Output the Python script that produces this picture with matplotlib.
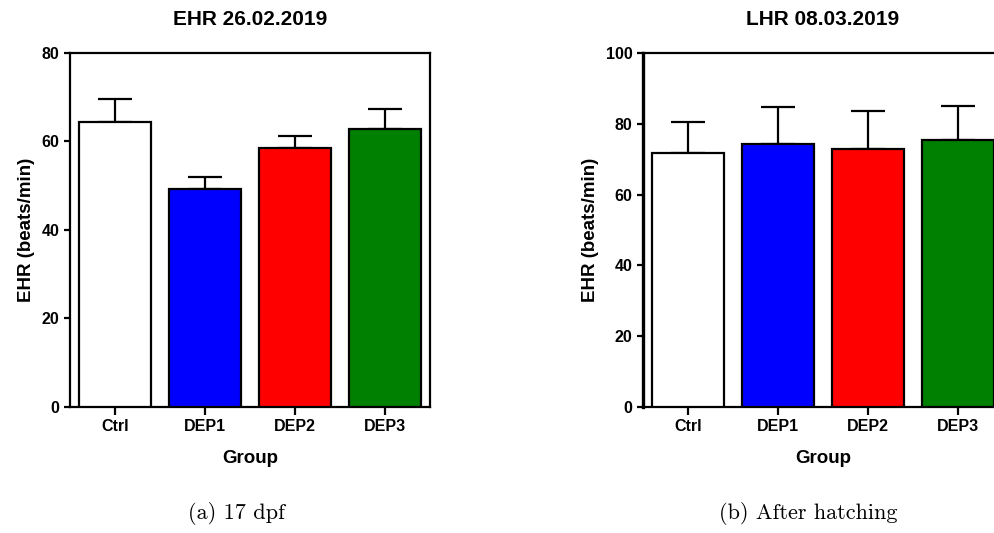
import numpy             as np
import matplotlib
matplotlib.use("Agg")
import matplotlib.pyplot as plt

groups    = ["Ctrl", "DEP1", "DEP2", "DEP3"]
colors    = ["#FFFFFF", "#0000FF", "#FF0000", "#008000"]

ehr_mean  = [64.3, 49.3, 58.5, 62.8]
ehr_err   = [5.4, 2.6, 2.8, 4.5]
lhr_mean  = [71.8, 74.3, 72.8, 75.5]
lhr_err   = [8.6, 10.4, 10.9, 9.5]

plt.rcParams['font.family'] = ['Liberation Sans', 'DejaVu Sans']
plt.rcParams['font.weight'] = 'bold'


def bar_panel(ax, mean, err, ymax, title, left_lw):

    x = np.arange(len(groups))
    ax.bar(x, mean, width=0.8, color=colors, edgecolor="black",
           linewidth=1.6, zorder=3)
    ax.errorbar(x, mean, yerr=[np.zeros(len(err)), err], fmt="none",
                ecolor="black", elinewidth=1.6, capsize=12, capthick=1.6,
                zorder=2)

    ax.set_xlim(-0.5, 3.5)
    ax.set_ylim(0, ymax)
    ax.set_yticks(np.arange(0, ymax + 1, 20))
    ax.set_xticks(x)
    ax.set_xticklabels(groups)

    for s in ax.spines.values():
        s.set_linewidth(1.6)
    ax.spines['left'].set_linewidth(left_lw)

    ax.tick_params(axis="both", direction="out", width=1.6, labelsize=11.5)
    ax.tick_params(axis="y", length=4)
    ax.tick_params(axis="x", length=6, pad=3)
    for lab in ax.get_xticklabels() + ax.get_yticklabels():
        lab.set_fontweight("bold")

    ax.set_title(title, fontsize=15, fontweight="bold", pad=20)
    ax.set_ylabel("EHR (beats/min)", fontsize=13.5, fontweight="bold",
                  labelpad=5)
    ax.set_xlabel("Group", fontsize=13.5, fontweight="bold", labelpad=11)


fig = plt.figure(figsize=(9.95, 5.33), dpi=100)

ax1 = fig.add_axes([0.0704, 0.2364, 0.3618, 0.6642])
bar_panel(ax1, ehr_mean, ehr_err, 80, "EHR 26.02.2019", 1.6)

ax2 = fig.add_axes([0.6462, 0.2364, 0.3618, 0.6642])
bar_panel(ax2, lhr_mean, lhr_err, 100, "LHR 08.03.2019", 2.4)

fig.text(0.238, 0.036, "(a) 17 dpf", fontsize=16, family="cmr10",
         fontweight="normal", ha="center", va="center")
fig.text(0.812, 0.036, "(b) After hatching", fontsize=16, family="cmr10",
         fontweight="normal", ha="center", va="center")

fig.savefig("out.png", dpi=100)
